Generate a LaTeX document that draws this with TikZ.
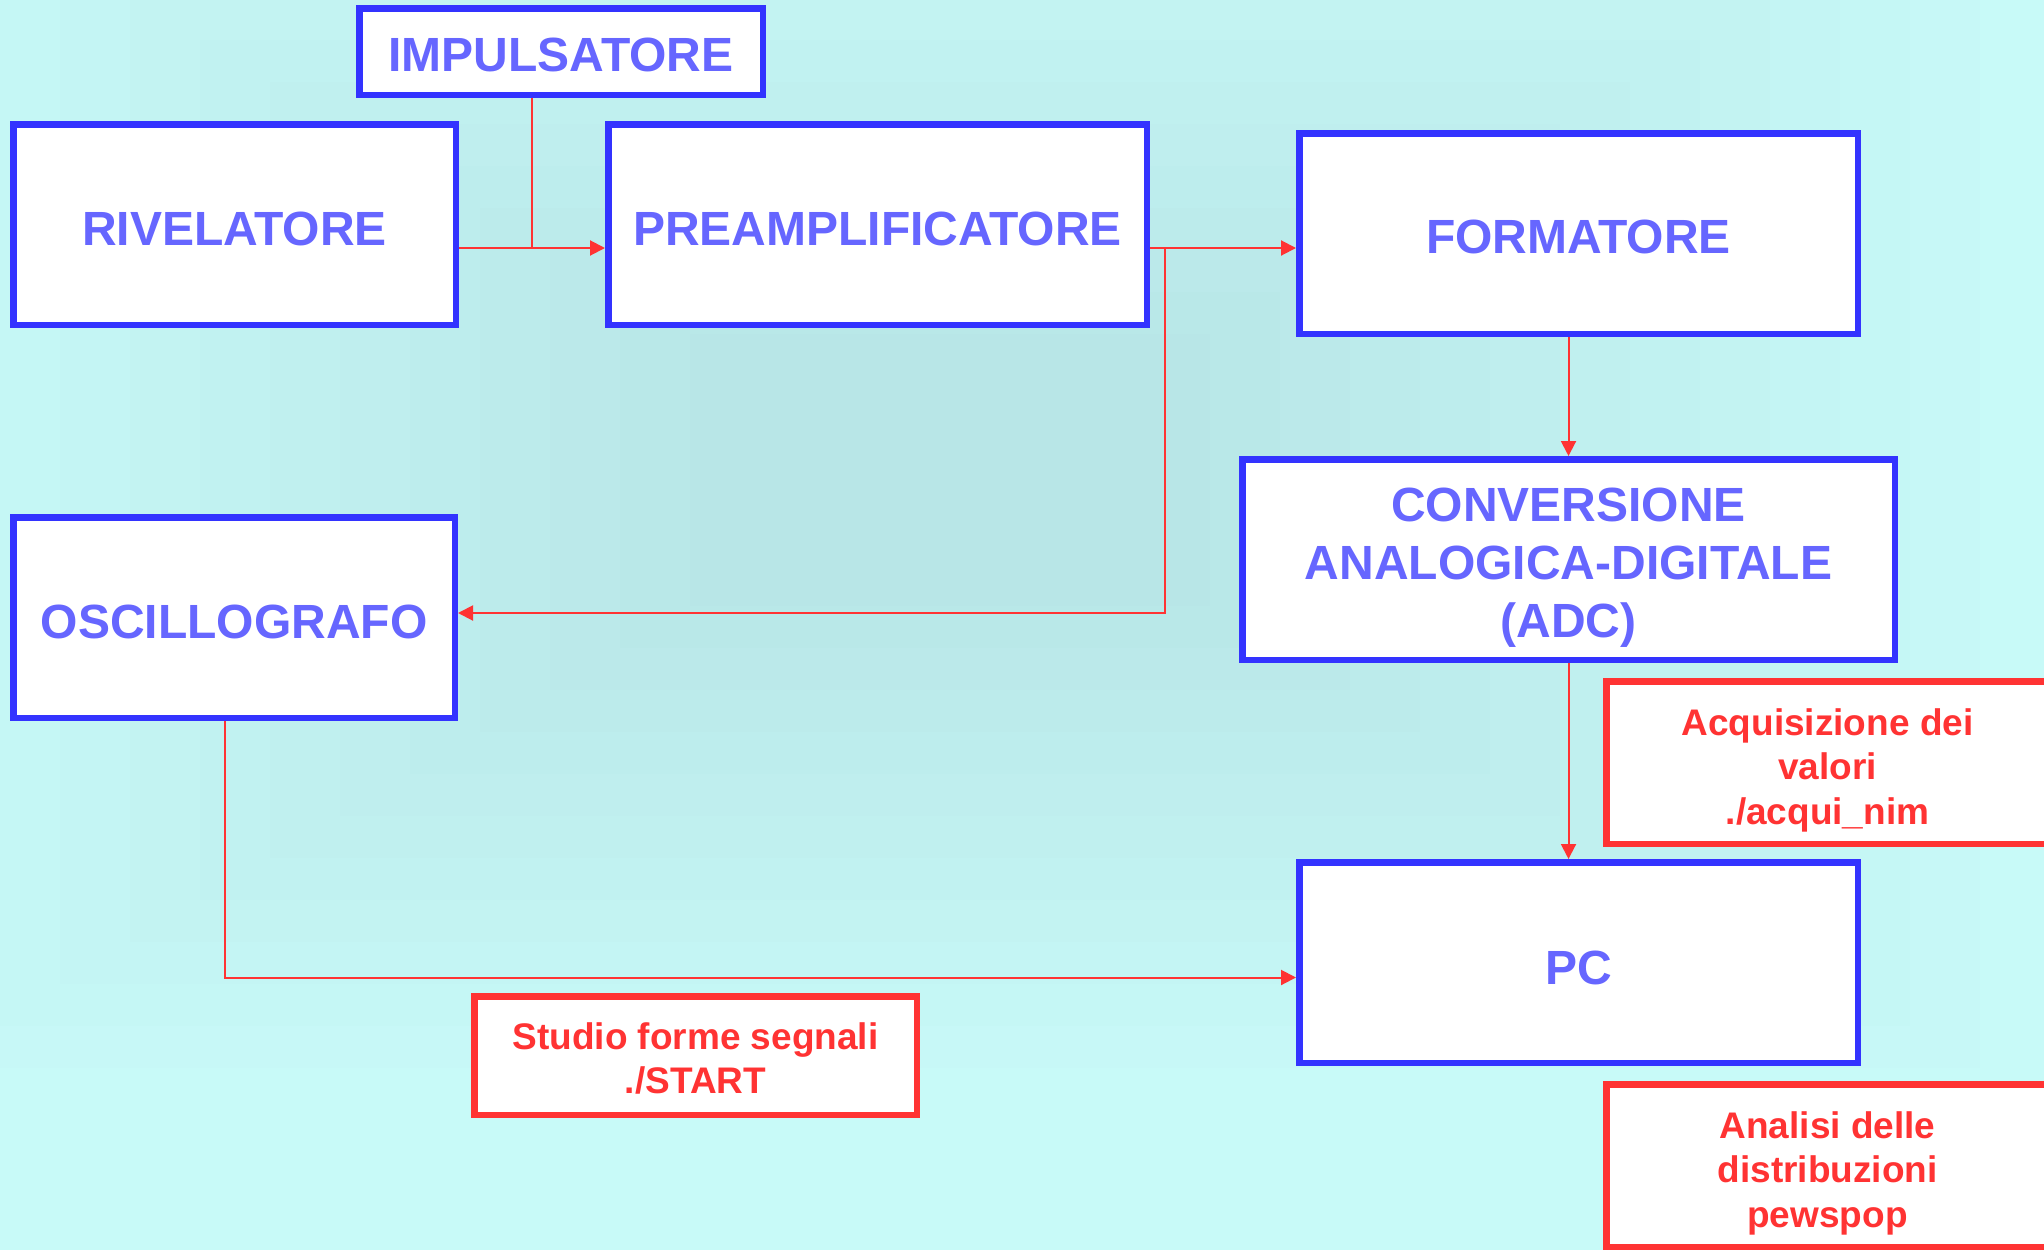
\documentclass[tikz,border=0pt]{standalone}
\usepackage{fontspec}
\setmainfont{Liberation Sans}
\usetikzlibrary{arrows.meta,calc}
\definecolor{bgout}{RGB}{200,250,248}
\definecolor{bgin}{RGB}{184,230,231}
\definecolor{bord}{RGB}{51,51,255}
\definecolor{btext}{RGB}{102,102,255}
\definecolor{rd}{RGB}{255,51,51}
\newcommand{\dtxt}[2]{\raisebox{-#1}[\height][\depth]{\begin{tabular}{@{}c@{}}#2\end{tabular}}}
\begin{document}
\begin{tikzpicture}[x=1pt,y=-1pt,
  bbox/.style={draw=bord,line width=6.5pt,fill=white,inner sep=0pt,
    text=btext,font=\fontsize{48}{58}\selectfont\bfseries},
  rbox/.style={draw=rd,line width=6.5pt,fill=white,inner sep=0pt,
    text=rd,font=\fontsize{37}{44.5}\selectfont\bfseries},
  conn/.style={draw=rd,line width=2pt},
  arr/.style={conn,-{Triangle[length=15pt,width=15pt]},color=rd}]
\useasboundingbox (0,0) rectangle (2044,1250);
\clip (0,0) rectangle (2044,1250);
\fill[bgout] (0,0) rectangle (2044,1250);
\foreach \i in {1,...,12}{
  \pgfmathsetmacro\w{1100-70*\i}
  \pgfmathsetmacro\h{640-42*\i}
  \pgfmathsetmacro\p{\i*100/12}
  \fill[bgin!\p!bgout] (950-\w,470-\h) rectangle (950+\w,470+\h);
}
% blue boxes (outer size minus line width)
\node[bbox,minimum width=403.5pt,minimum height=86.5pt] (imp) at (561,51.5) {\dtxt{8pt}{IMPULSATORE}};
\node[bbox,minimum width=442.5pt,minimum height=200.5pt] (riv) at (234.5,224.5) {\dtxt{9pt}{RIVELATORE}};
\node[bbox,minimum width=538.5pt,minimum height=200.5pt] (pre) at (877.5,224.5) {\dtxt{9pt}{PREAMPLIFICATORE}};
\node[bbox,minimum width=558.5pt,minimum height=200.5pt] (form) at (1578.5,233.5) {\dtxt{8pt}{FORMATORE}};
\node[bbox,minimum width=652.5pt,minimum height=200.5pt] (conv) at (1568.5,559.5) {\dtxt{8pt}{CONVERSIONE\\ANALOGICA-DIGITALE\\(ADC)}};
\node[bbox,minimum width=441.5pt,minimum height=200.5pt] (osc) at (234,617.5) {\dtxt{9pt}{OSCILLOGRAFO}};
\node[bbox,minimum width=558.5pt,minimum height=200.5pt] (pc) at (1578.5,962.5) {\dtxt{10pt}{PC}};
% red boxes
\node[rbox,minimum width=442.5pt,minimum height=162.5pt] (acq) at (1827.5,762.5) {\dtxt{8.5pt}{Acquisizione dei\\valori\\./acqui\_nim}};
\node[rbox,minimum width=442.5pt,minimum height=118.5pt] (stu) at (695.5,1055.5) {\dtxt{7pt}{Studio forme segnali\\./START}};
\node[rbox,minimum width=442.5pt,minimum height=162.5pt] (ana) at (1827.5,1165.5) {\dtxt{8.5pt}{Analisi delle\\distribuzioni\\pewspop}};
% connectors
\coordinate (j1) at (532,248);
\coordinate (j2) at (1165,248);
\coordinate (j3) at (1165,613);
\coordinate (j4) at (224.5,977.5);
\draw[conn] (j1 |- imp.south) -- (j1);
\draw[arr] (riv.east |- j1) -- (pre.west |- j1);
\draw[arr] (pre.east |- j2) -- (form.west |- j2);
\draw[arr] (j2) -- (j3) -- (osc.east |- j3);
\draw[arr] (conv.north |- form.south) -- (conv.north);
\draw[arr] (conv.south) -- (conv.south |- pc.north);
\draw[arr] (j4 |- osc.south) -- (j4) -- (pc.west |- j4);
\end{tikzpicture}
\end{document}
